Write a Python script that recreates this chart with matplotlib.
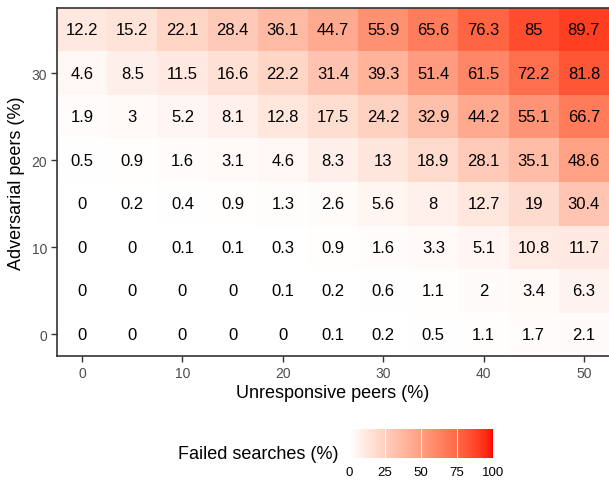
import numpy as np
import matplotlib
matplotlib.use("Agg")
import matplotlib.pyplot as plt
from matplotlib.colors import ListedColormap

plt.rcParams['font.family'] = ['Liberation Sans', 'DejaVu Sans']

# unresponsive peers (%) on x, adversarial peers (%) on y
unresponsive = [0, 5, 10, 15, 20, 25, 30, 35, 40, 45, 50]
adversarial = [0, 5, 10, 15, 20, 25, 30, 35]

# failed searches (%), one row per adversarial level (0 .. 35)
failed_0 = [0, 0, 0, 0, 0, 0.1, 0.2, 0.5, 1.1, 1.7, 2.1]
failed_5 = [0, 0, 0, 0, 0.1, 0.2, 0.6, 1.1, 2, 3.4, 6.3]
failed_10 = [0, 0, 0.1, 0.1, 0.3, 0.9, 1.6, 3.3, 5.1, 10.8, 11.7]
failed_15 = [0, 0.2, 0.4, 0.9, 1.3, 2.6, 5.6, 8, 12.7, 19, 30.4]
failed_20 = [0.5, 0.9, 1.6, 3.1, 4.6, 8.3, 13, 18.9, 28.1, 35.1, 48.6]
failed_25 = [1.9, 3, 5.2, 8.1, 12.8, 17.5, 24.2, 32.9, 44.2, 55.1, 66.7]
failed_30 = [4.6, 8.5, 11.5, 16.6, 22.2, 31.4, 39.3, 51.4, 61.5, 72.2, 81.8]
failed_35 = [12.2, 15.2, 22.1, 28.4, 36.1, 44.7, 55.9, 65.6, 76.3, 85, 89.7]

failed = np.array([failed_0, failed_5, failed_10, failed_15,
                   failed_20, failed_25, failed_30, failed_35])


def lab_gradient(n=256):
    # white -> red, interpolated in CIE Lab like ggplot's scale_fill_gradient
    def srgb_to_lab(rgb):
        rgb = np.asarray(rgb, dtype=float)
        lin = np.where(rgb <= 0.04045, rgb / 12.92, ((rgb + 0.055) / 1.055) ** 2.4)
        M = np.array([[0.4124, 0.3576, 0.1805],
                      [0.2126, 0.7152, 0.0722],
                      [0.0193, 0.1192, 0.9505]])
        xyz = M @ lin / np.array([0.95047, 1.0, 1.08883])
        f = np.where(xyz > 0.008856, np.cbrt(xyz), 7.787 * xyz + 16 / 116)
        return np.array([116 * f[1] - 16, 500 * (f[0] - f[1]), 200 * (f[1] - f[2])])

    def lab_to_srgb(lab):
        L, a, b = lab
        fy = (L + 16) / 116
        fx = fy + a / 500
        fz = fy - b / 200
        f = np.array([fx, fy, fz])
        xyz = np.where(f ** 3 > 0.008856, f ** 3, (f - 16 / 116) / 7.787)
        xyz = xyz * np.array([0.95047, 1.0, 1.08883])
        Minv = np.array([[3.2406, -1.5372, -0.4986],
                         [-0.9689, 1.8758, 0.0415],
                         [0.0557, -0.2040, 1.0570]])
        lin = Minv @ xyz
        rgb = np.where(lin <= 0.0031308, 12.92 * lin, 1.055 * np.clip(lin, 0, None) ** (1 / 2.4) - 0.055)
        return np.clip(rgb, 0, 1)

    lo = srgb_to_lab([1, 1, 1])
    hi = srgb_to_lab([1, 0, 0])
    cols = [lab_to_srgb(lo + t * (hi - lo)) for t in np.linspace(0, 1, n)]
    return ListedColormap(cols)


cmap = lab_gradient()

fig = plt.figure(figsize=(6.09, 4.85), dpi=100)
ax = fig.add_axes([57 / 609, 128 / 485, 552 / 609, 348 / 485])

x_edges = np.append(np.array(unresponsive) - 2.5, unresponsive[-1] + 2.5)
y_edges = np.append(np.array(adversarial) - 2.5, adversarial[-1] + 2.5)
mesh = ax.pcolormesh(x_edges, y_edges, failed, cmap=cmap, vmin=0, vmax=100)

for i, yv in enumerate(adversarial):
    for j, xv in enumerate(unresponsive):
        ax.text(xv, yv, f"{failed[i, j]:g}", ha='center', va='center',
                fontsize=12, color='black')

ax.set_xlim(-2.5, 52.5)
ax.set_ylim(-2.5, 37.5)
ax.set_xticks([0, 10, 20, 30, 40, 50])
ax.set_yticks([0, 10, 20, 30])
ax.tick_params(labelcolor='#4D4D4D', color='#333333', labelsize=10,
               length=4, width=1.0, pad=3)
ax.spines['right'].set_visible(False)
for s in ['left', 'top', 'bottom']:
    ax.spines[s].set_color('#333333')
    ax.spines[s].set_linewidth(1.2)

ax.set_xlabel("Unresponsive peers (%)", fontsize=13, labelpad=3)
ax.set_ylabel("Adversarial peers (%)", fontsize=13, labelpad=5)

# horizontal legend bar at the bottom
cax = fig.add_axes([349 / 609, 26 / 485, 144 / 609, 29 / 485])
cb = fig.colorbar(mesh, cax=cax, orientation='horizontal')
cb.outline.set_visible(False)
cb.set_ticks([0, 25, 50, 75, 100])
cax.tick_params(length=0, labelsize=9.5, pad=6)
for t in [25, 50, 75]:
    cax.axvline(t, color='white', lw=0.8, alpha=0.8)
fig.text(338 / 609, 30 / 485, "Failed searches (%)", ha='right', va='center',
         fontsize=13)

fig.savefig("out.png", dpi=100)
